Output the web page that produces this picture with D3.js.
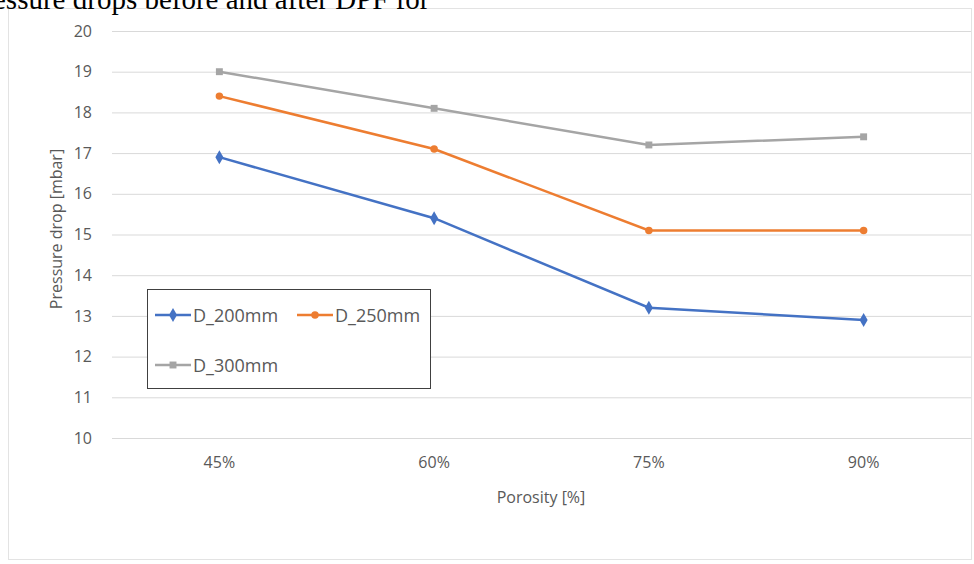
<!DOCTYPE html>
<meta charset="utf-8">
<style>
body { margin: 0; background: #fff; }
text { font-family: "Open Sans", "Liberation Sans", sans-serif; fill: #595959; }
.top { font-family: "Liberation Serif", "Times New Roman", serif; fill: #000; }
</style>
<svg width="974" height="564"></svg>
<script src="https://d3js.org/d3.v7.min.js"></script>
<script>

// values
var categories = ["45%", "60%", "75%", "90%"];
var d200 = [16.9, 15.4, 13.2, 12.9];
var d250 = [18.4, 17.1, 15.1, 15.1];
var d300 = [19.0, 18.1, 17.2, 17.4];
var seriesNames = ["D_200mm", "D_250mm", "D_300mm"];
var yTicks = [10, 11, 12, 13, 14, 15, 16, 17, 18, 19, 20];

var colors = ["#4472c4", "#ed7d31", "#a5a5a5"];
var symbols = [d3.symbolDiamond, d3.symbolCircle, d3.symbolSquare];
var symSize = [56, 44, 48];

var svg = d3.select("svg");

// chart frame
svg.append("rect")
  .attr("x", 8.5).attr("y", 8.5)
  .attr("width", 963).attr("height", 551)
  .attr("fill", "#fff").attr("stroke", "#e3e3e3");

// caption cut off at the top of the image
svg.append("text").attr("class", "top")
  .attr("x", -7).attr("y", 9)
  .style("font-size", "29px")
  .text("essure drops before and after DPF for");

var plotLeft = 112, plotRight = 971, plotTop = 31, plotBottom = 438;

var x = d3.scaleBand().domain(categories).range([plotLeft, plotRight]);
var y = d3.scaleLinear().domain([10, 20]).range([plotBottom, plotTop]);

// gridlines
svg.append("g")
  .attr("transform", "translate(" + plotLeft + ",0)")
  .call(d3.axisLeft(y).tickValues(yTicks).tickSize(-(plotRight - plotLeft)).tickFormat(""))
  .call(function(g) {
    g.select(".domain").remove();
    g.selectAll(".tick line").attr("stroke", "#d9d9d9");
  });

// y tick labels
svg.append("g")
  .attr("transform", "translate(" + plotLeft + ",0)")
  .call(d3.axisLeft(y).tickValues(yTicks).tickSize(0).tickPadding(20))
  .call(function(g) {
    g.select(".domain").remove();
    g.selectAll("text").style("font-size", "16px").attr("fill", "#595959");
  });

// x axis
svg.append("g")
  .attr("transform", "translate(0," + plotBottom + ")")
  .call(d3.axisBottom(x).tickSize(0).tickPadding(19))
  .call(function(g) {
    g.select(".domain").attr("stroke", "#d9d9d9");
    g.selectAll("text").style("font-size", "16px").attr("fill", "#595959");
  });

svg.append("text")
  .attr("x", 541).attr("y", 503)
  .attr("text-anchor", "middle").style("font-size", "16px")
  .text("Porosity [%]");

svg.append("text")
  .attr("transform", "translate(62,229) rotate(-90)")
  .attr("text-anchor", "middle").style("font-size", "16px")
  .text("Pressure drop [mbar]");

var allSeries = [d200, d250, d300];
var line = d3.line()
  .x(function(d, i) { return x(categories[i]) + x.bandwidth() / 2; })
  .y(function(d) { return y(d); });

allSeries.forEach(function(s, k) {
  svg.append("path")
    .datum(s)
    .attr("d", line)
    .attr("fill", "none")
    .attr("stroke", colors[k])
    .attr("stroke-width", 2.5);
  svg.selectAll(".m" + k)
    .data(s)
    .enter().append("path")
    .attr("class", "m" + k)
    .attr("transform", function(d, i) {
      return "translate(" + (x(categories[i]) + x.bandwidth() / 2) + "," + y(d) + ")";
    })
    .attr("d", d3.symbol().type(symbols[k]).size(symSize[k]))
    .attr("fill", colors[k]);
});

// legend
var lg = svg.append("g");
lg.append("rect")
  .attr("x", 147.5).attr("y", 289.5)
  .attr("width", 283).attr("height", 99)
  .attr("fill", "#fff").attr("stroke", "#404040");

var legPos = [[155, 315], [297, 315], [155, 365]];
seriesNames.forEach(function(name, k) {
  var p = legPos[k];
  lg.append("line")
    .attr("x1", p[0]).attr("x2", p[0] + 36)
    .attr("y1", p[1]).attr("y2", p[1])
    .attr("stroke", colors[k]).attr("stroke-width", 2.5);
  lg.append("path")
    .attr("transform", "translate(" + (p[0] + 18) + "," + p[1] + ")")
    .attr("d", d3.symbol().type(symbols[k]).size(symSize[k]))
    .attr("fill", colors[k]);
  lg.append("text")
    .attr("x", p[0] + 38).attr("y", p[1] + 6.5)
    .style("font-size", "18px")
    .text(name);
});

</script>
